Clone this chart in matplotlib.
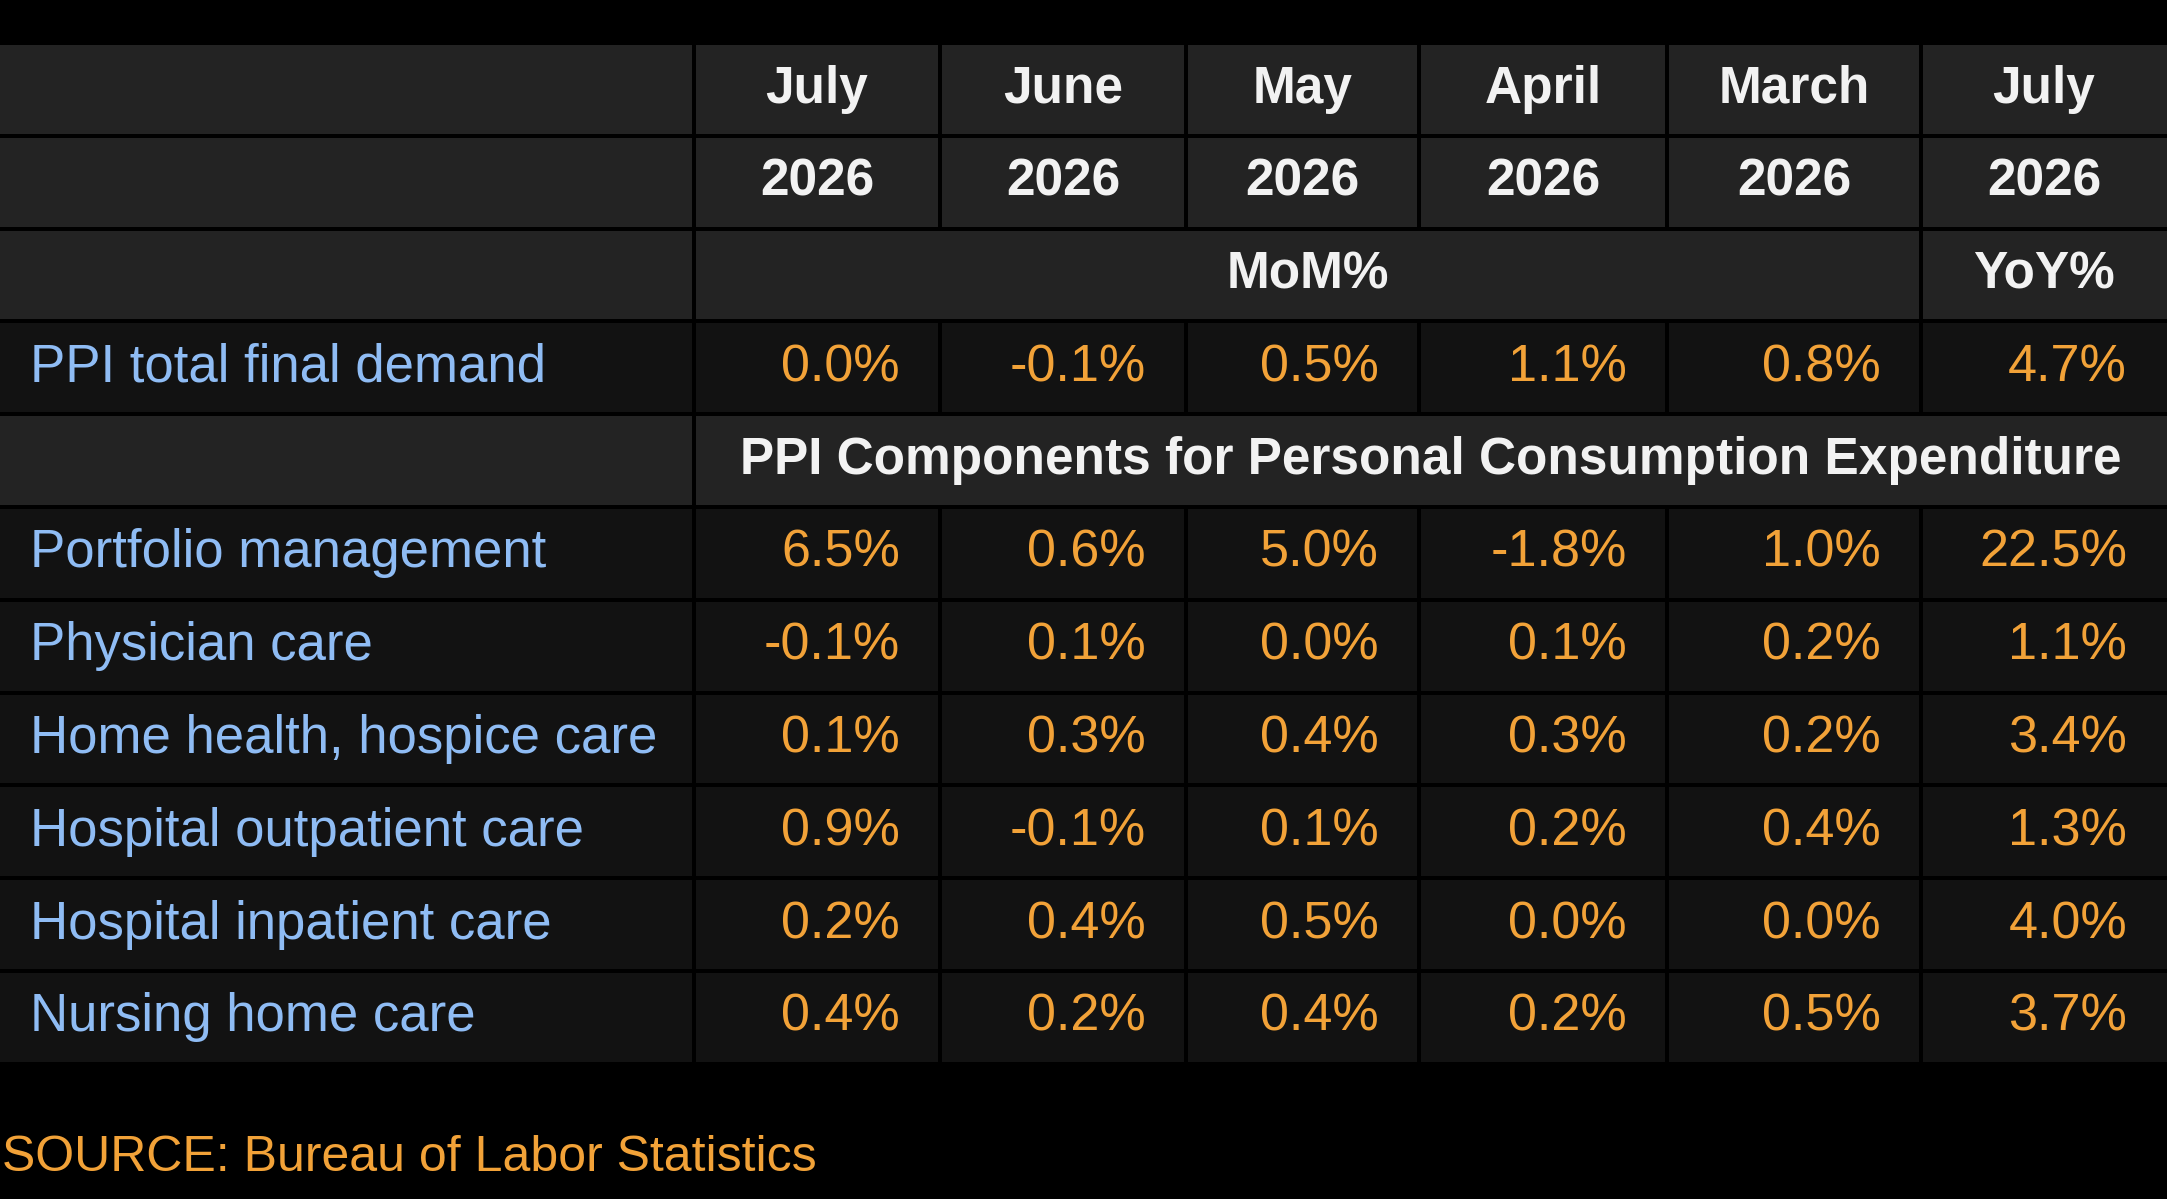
import matplotlib

matplotlib.use("Agg")
import matplotlib.pyplot as plt
from matplotlib.patches import Rectangle

# --- data -------------------------------------------------------------------
months = ["July", "June", "May", "April", "March", "July"]
years = ["2026", "2026", "2026", "2026", "2026", "2026"]
total_label = "PPI total final demand"
total_values = [0.0, -0.1, 0.5, 1.1, 0.8, 4.7]
section_title = "PPI Components for Personal Consumption Expenditure"
component_labels = [
    "Portfolio management",
    "Physician care",
    "Home health, hospice care",
    "Hospital outpatient care",
    "Hospital inpatient care",
    "Nursing home care",
]
component_values = [
    [6.5, 0.6, 5.0, -1.8, 1.0, 22.5],
    [-0.1, 0.1, 0.0, 0.1, 0.2, 1.1],
    [0.1, 0.3, 0.4, 0.3, 0.2, 3.4],
    [0.9, -0.1, 0.1, 0.2, 0.4, 1.3],
    [0.2, 0.4, 0.5, 0.0, 0.0, 4.0],
    [0.4, 0.2, 0.4, 0.2, 0.5, 3.7],
]
source = "SOURCE: Bureau of Labor Statistics"

# --- layout / style ---------------------------------------------------------
W, H = 2167, 1199
COLS = [0, 694, 940, 1186, 1419, 1667, 1921, 2167]
TOP, ROW_H = 43, 92.8
GAP = 2
HEAD_BG, DATA_BG = "#232323", "#121212"
WHITE, BLUE, ORANGE = "#f2f2f2", "#8fbcf4", "#f2a238"
FONT = "Liberation Sans"
FS_HEAD, FS_LABEL, FS_VAL, FS_SRC = 37, 38, 37.5, 36

fig = plt.figure(figsize=(W / 100, H / 100), dpi=100, facecolor="black")
ax = fig.add_axes([0, 0, 1, 1])
ax.set_xlim(0, W)
ax.set_ylim(H, 0)
ax.axis("off")
ax.set_facecolor("black")


def cell(x0, x1, row, color):
    y0 = TOP + row * ROW_H
    left = x0 + (GAP if x0 > 0 else 0)
    right = x1 - (GAP if x1 < W else 0)
    ax.add_patch(Rectangle((left, y0 + GAP), right - left, ROW_H - 2 * GAP,
                           facecolor=color, edgecolor="none"))


def row_y(row):
    return TOP + (row + 0.5) * ROW_H


def fmt(v):
    return f"{v:.1f}%"


def header_row(row, texts):
    cell(COLS[0], COLS[1], row, HEAD_BG)
    for i, t in enumerate(texts):
        cell(COLS[i + 1], COLS[i + 2], row, HEAD_BG)
        ax.text((COLS[i + 1] + COLS[i + 2]) / 2, row_y(row), t, color=WHITE,
                fontsize=FS_HEAD, fontweight="bold", family=FONT,
                ha="center", va="center")


def data_row(row, label, values):
    cell(COLS[0], COLS[1], row, DATA_BG)
    ax.text(30, row_y(row), label, color=BLUE, fontsize=FS_LABEL, family=FONT,
            ha="left", va="center")
    for i, v in enumerate(values):
        cell(COLS[i + 1], COLS[i + 2], row, DATA_BG)
        ax.text(COLS[i + 2] - 40, row_y(row), fmt(v), color=ORANGE,
                fontsize=FS_VAL, family=FONT, ha="right", va="center")


def span_row(row, spans):
    cell(COLS[0], COLS[1], row, HEAD_BG)
    for a, b, t in spans:
        cell(COLS[a], COLS[b], row, HEAD_BG)
        ax.text((COLS[a] + COLS[b]) / 2, row_y(row), t, color=WHITE,
                fontsize=FS_HEAD, fontweight="bold", family=FONT,
                ha="center", va="center")


header_row(0, months)
header_row(1, years)
span_row(2, [(1, 6, "MoM%"), (6, 7, "YoY%")])
data_row(3, total_label, total_values)
span_row(4, [(1, 7, section_title)])
for k, (lab, vals) in enumerate(zip(component_labels, component_values)):
    data_row(5 + k, lab, vals)

ax.text(2, 1158, source, color=ORANGE, fontsize=FS_SRC, family=FONT,
        ha="left", va="center")

fig.savefig("out.png", dpi=100, facecolor="black")
